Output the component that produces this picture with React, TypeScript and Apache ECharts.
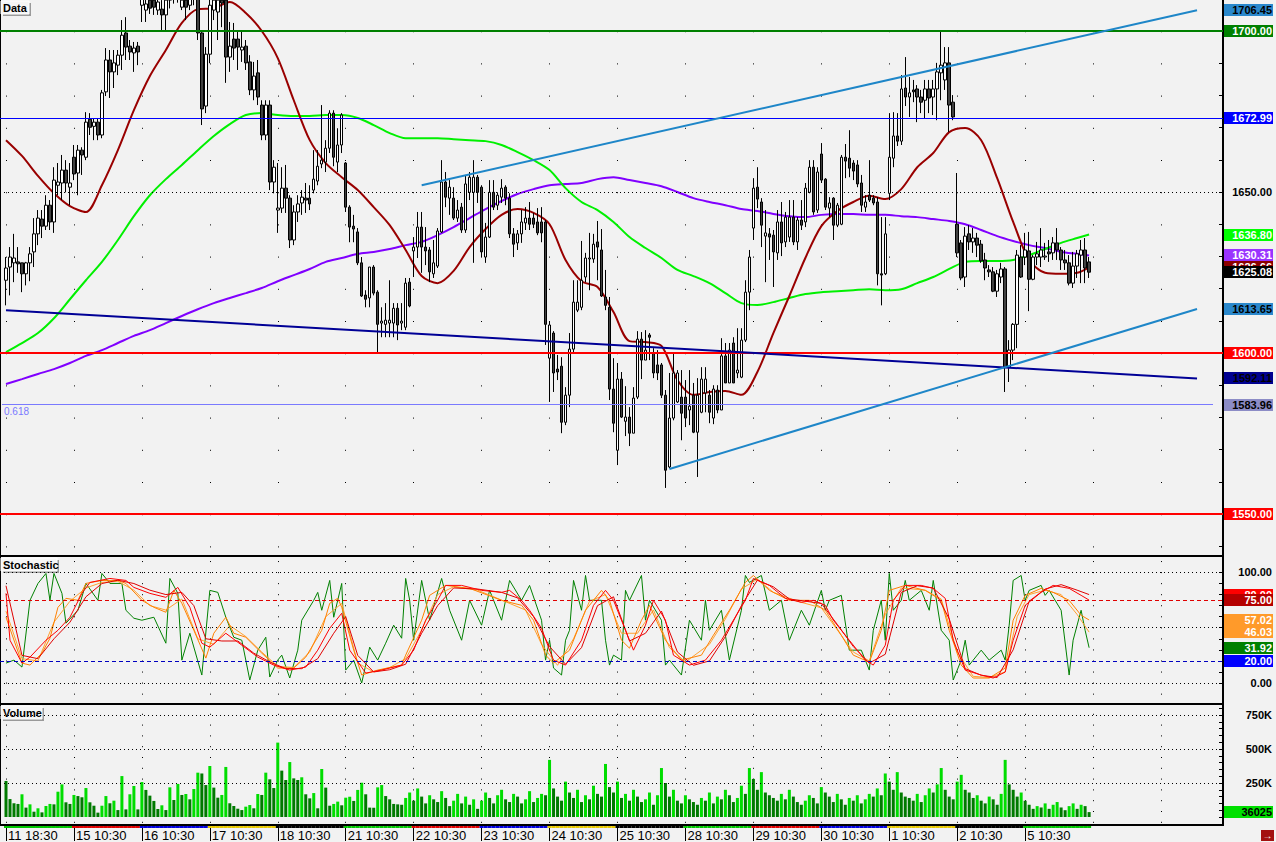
import React, { useEffect, useRef } from "react";
import * as echarts from "echarts";

// ---------- categories / day labels ----------
const dayLabels = ["11 18:30", "15 10:30", "16 10:30", "17 10:30", "18 10:30", "21 10:30", "22 10:30", "23 10:30", "24 10:30", "25 10:30", "28 10:30", "29 10:30", "30 10:30", "1 10:30", "2 10:30", "5 10:30"];
const dayStart = [0, 17, 34, 51, 68, 85, 102, 119, 136, 153, 170, 187, 204, 221, 238, 255];
const futureDayStart = [272, 289];
const dayColors = ["#00c800", "#e00000", "#0000e0", "#e8c800", "#000000", "#00c800", "#e00000", "#0000e0", "#e8c800", "#000000", "#00c800", "#e00000", "#0000e0", "#e8c800", "#000000", "#00c800"];
const SLOTS = 306;
const OFFSET = 1;

// ---------- price candles [open, close, low, high] ----------
const candles: number[][] = [
[1622.6,1626.4,1614.8,1629.8],[1626.7,1629.8,1617.9,1632.9],[1628.0,1629.5,1622.0,1637.0],[1628.3,1627.7,1624.9,1632.9],[1628.0,1624.6,1618.9,1628.0],
[1624.6,1628.0,1621.0,1628.3],[1628.0,1630.8,1622.3,1632.9],[1631.4,1637.0,1626.7,1641.9],[1637.0,1641.9,1633.5,1644.4],[1641.6,1639.4,1635.7,1644.4],
[1639.4,1645.9,1638.2,1649.0],[1645.9,1640.7,1638.2,1647.5],[1640.7,1653.7,1637.3,1657.7],[1652.1,1653.1,1649.0,1659.0],[1652.8,1656.8,1647.5,1661.5],
[1656.8,1652.8,1649.9,1659.9],[1651.5,1652.8,1645.9,1659.0],[1660.8,1655.6,1653.7,1664.6],[1655.9,1663.0,1649.0,1664.6],[1663.0,1661.5,1655.3,1663.9],
[1660.8,1671.7,1659.9,1674.8],[1672.6,1670.1,1667.7,1674.5],[1670.4,1671.7,1666.1,1672.9],[1671.7,1667.7,1666.1,1672.9],[1667.7,1680.8,1666.7,1681.7],
[1681.1,1691.0,1679.8,1694.7],[1691.0,1687.3,1679.2,1694.1],[1687.3,1690.1,1682.3,1694.1],[1689.4,1692.5,1686.3,1694.1],[1692.5,1698.7,1687.9,1703.4],
[1699.4,1695.0,1691.0,1704.3],[1695.3,1693.5,1691.0,1697.2],[1693.2,1694.7,1687.3,1696.6],[1695.3,1693.5,1689.4,1696.6],[1708.0,1711.2,1702.8,1714.3],
[1706.5,1708.4,1702.8,1711.2],[1709.6,1707.1,1705.3,1711.2],[1709.6,1707.4,1705.0,1711.2],[1706.5,1709.0,1705.0,1711.2],[1706.8,1705.0,1700.3,1709.6],
[1705.0,1709.6,1700.3,1711.2],[1709.6,1711.2,1707.0,1712.7],[1711.2,1710.5,1708.5,1712.7],[1710.5,1711.2,1708.8,1712.7],[1707.4,1709.6,1706.5,1711.2],
[1709.6,1707.4,1703.4,1711.2],[1708.0,1710.2,1706.5,1712.1],[1710.2,1711.2,1708.0,1712.7],[1710.2,1699.4,1697.2,1711.2],[1699.4,1675.8,1670.8,1700.3],
[1676.7,1692.8,1674.5,1695.0],[1692.8,1708.0,1690.0,1711.2],[1706.5,1709.6,1703.4,1711.2],[1705.9,1709.6,1697.2,1711.2],[1709.6,1708.7,1701.2,1711.2],
[1709.6,1691.9,1683.9,1711.2],[1691.9,1695.3,1687.3,1702.8],[1697.5,1694.7,1691.0,1702.5],[1697.5,1695.0,1687.9,1699.7],[1694.1,1695.0,1690.4,1699.7],
[1695.3,1690.1,1687.9,1697.2],[1690.4,1681.7,1680.1,1692.5],[1681.7,1686.0,1678.5,1690.4],[1687.0,1679.5,1677.0,1691.0],[1677.0,1667.7,1666.1,1678.5],
[1667.7,1677.0,1666.1,1678.5],[1677.0,1653.1,1650.6,1678.5],[1653.1,1657.7,1649.6,1659.9],[1644.4,1645.0,1637.3,1659.0],[1645.0,1651.2,1643.5,1657.7],
[1651.2,1648.1,1643.5,1658.4],[1648.1,1635.1,1632.6,1649.0],[1635.1,1643.8,1633.5,1645.9],[1643.8,1646.3,1640.7,1649.0],[1646.6,1648.4,1642.9,1650.6],
[1648.1,1647.5,1643.5,1652.8],[1648.1,1646.3,1644.4,1652.1],[1650.6,1654.0,1649.6,1663.0],[1653.4,1658.0,1652.1,1663.0],[1658.7,1659.9,1657.4,1677.0],
[1659.3,1663.6,1656.2,1666.1],[1663.6,1674.5,1662.1,1675.4],[1674.5,1660.8,1658.0,1675.4],[1659.3,1664.6,1656.2,1669.8],[1664.6,1673.9,1662.1,1674.5],
[1659.0,1645.3,1643.8,1659.3],[1645.3,1639.1,1634.4,1645.9],[1639.4,1638.5,1634.4,1642.9],[1637.6,1628.0,1627.3,1638.8],[1628.0,1617.7,1617.4,1629.8],
[1618.0,1616.7,1614.2,1619.5],[1617.1,1626.7,1614.2,1626.7],[1626.7,1618.6,1617.9,1627.3],[1618.9,1608.9,1600.0,1619.5],[1609.3,1609.9,1604.9,1614.2],
[1608.9,1610.2,1604.9,1615.5],[1609.3,1610.2,1604.9,1622.6],[1609.3,1613.9,1604.9,1615.5],[1613.9,1608.7,1604.0,1615.5],[1609.3,1609.9,1607.1,1615.5],
[1608.0,1621.7,1607.1,1623.3],[1622.0,1614.6,1614.2,1623.3],[1631.7,1632.9,1623.6,1636.0],[1632.9,1639.1,1629.5,1643.8],[1639.1,1632.9,1624.9,1643.8],
[1632.9,1631.7,1627.3,1639.1],[1632.0,1625.2,1622.0,1632.9],[1624.6,1628.0,1623.3,1635.1],[1627.0,1637.9,1626.4,1638.8],[1637.6,1653.1,1637.3,1659.9],
[1653.1,1648.4,1645.3,1656.2],[1648.1,1651.5,1642.9,1653.7],[1648.1,1641.9,1641.3,1651.5],[1641.9,1644.4,1640.7,1647.5],[1645.3,1638.2,1637.3,1646.6],
[1638.2,1652.5,1637.3,1655.3],[1649.9,1654.6,1647.5,1656.2],[1649.9,1654.6,1628.0,1659.9],[1654.6,1649.9,1646.6,1655.3],[1651.5,1631.4,1629.8,1652.1],
[1629.8,1636.0,1628.0,1640.4],[1636.0,1649.9,1635.7,1653.7],[1649.9,1645.3,1644.4,1653.7],[1645.9,1649.0,1644.4,1649.9],[1648.4,1651.2,1646.6,1654.0],
[1651.5,1648.1,1645.9,1652.1],[1648.1,1637.0,1635.7,1649.6],[1637.0,1633.8,1629.8,1638.8],[1634.2,1637.0,1632.0,1638.2],[1637.0,1640.7,1634.2,1644.4],
[1640.4,1641.9,1638.2,1645.3],[1641.9,1640.0,1638.2,1646.9],[1641.9,1640.0,1638.8,1643.5],[1640.7,1637.3,1636.6,1645.0],[1640.7,1637.3,1634.4,1645.3],
[1640.7,1608.9,1602.5,1641.3],[1598.4,1608.7,1584.8,1609.9],[1606.2,1593.8,1587.9,1606.8],[1595.0,1594.1,1591.6,1599.4],[1595.9,1578.5,1575.1,1598.7],
[1578.5,1586.9,1577.6,1589.4],[1586.9,1601.2,1583.2,1606.2],[1601.2,1615.8,1600.3,1622.6],[1613.3,1615.8,1612.7,1622.6],[1614.2,1622.6,1613.3,1634.8],
[1623.6,1629.5,1622.0,1631.1],[1629.2,1629.5,1619.5,1637.3],[1629.2,1633.8,1628.0,1637.0],[1634.5,1632.9,1622.6,1641.0],[1632.0,1617.7,1617.4,1638.5],
[1617.4,1614.8,1613.3,1625.8],[1614.2,1588.8,1585.4,1617.4],[1588.8,1578.2,1575.4,1598.4],[1569.8,1591.9,1565.2,1596.9],[1591.9,1580.1,1579.8,1594.1],
[1578.8,1580.1,1574.2,1589.7],[1580.1,1575.1,1571.1,1583.2],[1575.1,1586.0,1575.1,1589.4],[1586.3,1604.3,1585.7,1606.8],[1604.3,1597.8,1591.9,1606.5],
[1597.8,1600.9,1597.8,1607.1],[1605.6,1604.9,1597.8,1606.2],[1600.0,1593.8,1592.2,1601.5],[1596.3,1593.8,1591.6,1600.9],[1596.3,1586.9,1586.0,1596.9],
[1586.9,1563.6,1558.1,1588.5],[1564.6,1579.8,1564.2,1593.8],[1579.8,1593.8,1579.1,1599.7],[1584.8,1593.8,1584.5,1594.7],[1586.3,1581.3,1572.9,1594.7],
[1586.3,1579.8,1577.0,1591.6],[1582.3,1583.5,1577.6,1594.7],[1586.9,1575.4,1575.1,1590.7],[1575.4,1586.9,1561.5,1592.2],[1581.6,1591.9,1581.3,1595.6],
[1587.6,1591.9,1581.6,1595.6],[1586.9,1581.6,1578.2,1588.5],[1579.8,1588.8,1577.9,1590.0],[1588.5,1582.3,1581.3,1590.0],[1582.3,1599.1,1582.3,1604.6],
[1599.1,1590.7,1590.7,1603.1],[1590.7,1600.9,1590.7,1603.1],[1603.1,1590.7,1590.7,1604.9],[1593.8,1594.7,1592.2,1607.7],[1592.5,1604.0,1592.2,1607.7],
[1604.0,1618.9,1603.4,1622.6],[1618.9,1629.8,1613.3,1632.0],[1638.8,1651.2,1635.1,1654.3],[1651.5,1647.8,1645.0,1657.7],[1646.9,1639.7,1632.9,1648.1],
[1636.3,1637.3,1622.0,1644.4],[1637.0,1636.0,1628.9,1638.8],[1636.6,1631.4,1620.5,1638.2],[1631.1,1640.7,1628.9,1644.4],[1640.7,1634.2,1630.1,1646.9],
[1634.5,1642.2,1632.9,1643.8],[1636.0,1642.2,1634.5,1647.5],[1642.2,1634.5,1633.5,1647.5],[1634.5,1641.3,1632.0,1642.2],[1641.3,1639.7,1638.2,1647.5],
[1640.7,1651.2,1639.1,1652.8],[1649.9,1657.7,1649.6,1659.9],[1657.7,1643.8,1642.9,1659.9],[1644.4,1656.2,1643.5,1657.7],[1661.8,1653.7,1652.8,1665.2],
[1654.0,1645.3,1644.4,1654.3],[1645.0,1646.6,1642.2,1648.4],[1648.1,1639.7,1635.1,1648.4],[1639.7,1645.9,1639.1,1646.6],[1640.0,1660.8,1639.7,1661.5],
[1660.8,1659.6,1654.3,1664.9],[1660.5,1657.4,1654.6,1669.2],[1659.0,1656.5,1653.7,1659.9],[1658.4,1652.5,1651.5,1659.9],[1652.8,1645.9,1643.8,1655.3],
[1645.3,1646.9,1643.8,1649.0],[1649.0,1647.5,1646.9,1659.9],[1648.1,1646.6,1645.9,1649.0],[1646.9,1624.6,1621.0,1648.4],[1624.6,1624.2,1614.8,1642.2],
[1624.6,1637.0,1624.2,1642.2],[1649.6,1660.8,1647.5,1674.5],[1660.5,1667.4,1657.7,1674.8],[1667.4,1665.8,1664.3,1674.5],[1665.8,1682.0,1664.6,1686.3],
[1682.3,1679.5,1676.7,1691.9],[1679.5,1680.8,1673.3,1685.7],[1681.7,1681.1,1677.9,1684.8],[1682.0,1679.5,1671.7,1683.2],[1679.5,1677.9,1674.5,1681.7],
[1678.5,1682.0,1672.9,1684.8],[1682.0,1679.2,1674.5,1684.8],[1679.5,1682.0,1673.9,1684.8],[1682.0,1687.3,1672.3,1690.1],[1687.0,1689.4,1678.5,1700.0],
[1684.8,1690.1,1681.7,1695.0],[1690.1,1677.0,1668.6,1695.0],[1677.9,1673.3,1672.3,1680.1],[1640.0,1631.1,1629.8,1655.9],[1634.2,1623.3,1622.6,1635.1],
[1623.6,1636.3,1620.5,1639.1],[1637.0,1634.5,1632.0,1639.7],[1634.5,1635.7,1631.1,1638.8],[1635.7,1633.5,1629.8,1637.3],[1633.8,1628.6,1628.0,1635.1],
[1628.9,1626.4,1622.6,1631.1],[1625.8,1625.2,1623.6,1627.3],[1625.2,1619.2,1618.9,1626.7],[1619.2,1624.6,1617.4,1625.8],[1623.6,1626.1,1621.7,1628.0],
[1626.1,1595.6,1587.9,1626.7],[1595.6,1600.9,1591.0,1604.0],[1600.9,1608.9,1597.8,1609.3],[1608.9,1630.4,1601.5,1632.0],[1629.8,1623.6,1623.3,1633.5],
[1629.8,1632.0,1627.3,1637.3],[1631.7,1622.9,1613.0,1637.6],[1622.9,1629.8,1622.6,1630.4],[1629.8,1630.8,1627.3,1634.5],[1629.8,1632.0,1626.7,1638.8],
[1629.8,1630.1,1628.9,1634.2],[1631.4,1630.8,1628.3,1635.1],[1631.1,1634.2,1628.9,1636.0],[1634.2,1632.0,1628.9,1638.8],[1632.0,1628.9,1625.8,1632.9],
[1628.9,1628.0,1625.8,1632.0],[1628.0,1621.7,1621.0,1630.4],[1621.7,1627.0,1620.2,1631.4],[1627.0,1630.8,1623.3,1632.0],[1630.4,1632.0,1621.7,1635.1],
[1632.0,1626.4,1621.7,1635.7],[1628.3,1625.1,1623.3,1629.8]
];

// ---------- volume (thousands) ----------
const volumeK: number[] = [
265,132,101,96,167,69,93,39,64,34,81,96,93,186,240,108,96,162,154,145,
213,108,83,32,83,154,101,120,51,301,56,167,228,56,257,199,157,118,59,86,
51,218,125,243,162,169,130,206,326,320,235,375,216,142,162,368,101,81,61,51,
76,88,64,169,162,326,277,213,547,341,272,404,284,272,292,167,137,176,64,353,
216,83,96,113,86,142,149,118,199,252,167,69,68,218,235,154,130,96,93,
90,140,180,120,210,150,100,160,130,110,190,140,80,120,170,100,150,90,130,60,
120,180,140,100,160,200,130,110,170,150,100,130,190,110,140,170,160,
420,210,150,120,260,180,140,200,110,160,130,230,170,150,390,220,180,
260,140,170,120,200,150,110,130,180,90,160,360,250,150,200,120,100,
160,130,110,90,140,120,180,100,150,130,200,160,110,140,230,170,360,
280,200,330,180,160,140,120,170,130,200,150,110,90,120,160,140,100,
220,180,150,110,170,130,90,140,120,160,100,130,170,150,210,160,320,
260,200,330,180,150,140,120,170,110,160,210,180,240,360,200,150,130,
260,310,200,180,140,160,120,100,150,130,90,170,420,240,200,150,180,
120,90,60,80,70,100,60,90,110,70,50,80,100,60,90,80,36.025
];

// ---------- moving averages, read every 4th bar (last = final bar) ----------
const MA_STEP = 4;
const maShort = [1666.1,1661.2,1655.0,1649.6,1645.6,1643.8,1652.1,1663.0,1675.4,1686.0,
1694.1,1702.5,1706.8,1707.1,1709.0,1705.6,1700.0,1691.6,1678.5,1666.1,
1659.0,1654.6,1650.6,1645.3,1639.7,1632.0,1623.9,1621.7,1625.5,1632.9,
1638.5,1642.9,1644.7,1643.5,1640.0,1628.9,1622.3,1620.5,1612.7,1603.7,
1603.4,1602.2,1591.6,1587.0,1587.9,1588.2,1587.0,1594.1,1606.2,1617.7,
1629.5,1639.4,1644.1,1646.9,1648.8,1647.8,1650.9,1657.7,1662.1,1668.6,
1669.9,1666.1,1654.3,1640.7,1628.9,1624.9,1624.6,1624.9,1626.6];
const maMid = [1600.3,1603.1,1606.2,1610.8,1616.7,1622.6,1628.3,1635.1,1642.5,1649.0,
1654.0,1658.4,1663.0,1667.4,1671.1,1673.9,1674.5,1673.9,1673.6,1673.6,
1673.9,1673.9,1673.0,1670.8,1668.3,1666.7,1666.7,1666.7,1666.4,1666.1,
1665.8,1664.6,1662.4,1659.9,1656.8,1651.2,1646.9,1644.4,1640.7,1636.0,
1632.6,1629.5,1625.8,1623.9,1621.7,1618.6,1615.5,1614.9,1615.8,1617.1,
1618.3,1618.9,1619.2,1619.5,1619.8,1619.5,1619.8,1621.7,1623.6,1626.1,
1628.3,1628.6,1628.6,1628.9,1630.4,1632.3,1634.2,1635.7,1636.8];
const maLong = [1590.4,1591.9,1593.5,1595.0,1596.9,1599.1,1600.9,1603.1,1605.3,1607.1,
1609.3,1611.5,1613.6,1615.5,1617.1,1618.6,1620.2,1622.3,1624.2,1626.1,
1628.3,1629.5,1630.8,1631.4,1632.3,1633.5,1634.5,1636.6,1639.1,1641.9,
1644.7,1647.2,1649.4,1650.9,1652.1,1652.5,1652.8,1654.0,1654.6,1653.7,
1652.8,1651.8,1650.0,1648.1,1646.9,1645.9,1644.7,1644.1,1643.2,1642.5,
1642.2,1642.9,1643.2,1643.2,1642.9,1642.9,1642.5,1642.2,1641.6,1641.0,
1640.0,1638.2,1636.3,1634.8,1633.5,1632.6,1631.4,1630.8,1630.3];

// ---------- stochastic lines [bar index, value] ----------
const stochGreen: number[][] = [[0,18],[2,20.7],[4,14.4],[6,74.8],[8,90.1],[10,99.1],[11,74.8],[12,99.1],[14,81.1],[15,54.1],[18,65.8],[20,90.1],[23,74.8],[24,99.1],[26,90.1],[29,90.1],[30,65.8],[32,58.6],[34,56.8],[37,59.5],[40,36],[41,94.6],[43,81.1],[44,20.7],[46,45],[49,7.2],[51,83.8],[53,82],[55,59.5],[57,41.4],[59,38.7],[61,2.7],[63,29.7],[65,41.4],[66,5.4],[68,20.7],[69,25.2],[71,4.5],[73,29.7],[74,56.8],[77,74.8],[78,82],[79,65.8],[81,92.8],[82,59.5],[84,90.1],[85,11.7],[87,20.7],[89,0],[91,32.4],[93,20.7],[95,36],[97,52.3],[99,40.5],[100,94.6],[101,74.8],[102,38.7],[104,92.8],[106,56.8],[109,94.6],[111,65.8],[114,38.7],[116,74.8],[119,52.3],[121,83.8],[124,56.8],[126,92.8],[129,74.8],[131,88.3],[134,56.8],[135,20.7],[136,38.7],[137,13.5],[139,7.2],[140,38.7],[141,47.7],[142,92.8],[144,65.8],[145,97.3],[146,74.8],[149,74.8],[150,38.7],[151,16.2],[152,25.2],[154,20.7],[155,83.8],[156,74.8],[159,97.3],[160,56.8],[161,74.8],[164,56.8],[165,16.2],[166,20.7],[169,7.2],[171,56.8],[174,38.7],[175,74.8],[176,47.7],[179,65.8],[181,20.7],[184,65.8],[185,97.3],[186,91],[189,97.3],[191,65.8],[194,74.8],[196,38.7],[199,65.8],[201,52.3],[204,83.8],[205,65.8],[206,74.8],[209,79.3],[211,29.7],[214,29.7],[216,11.7],[217,47.7],[219,74.8],[220,38.7],[221,99.1],[222,65.8],[224,74.8],[225,92.8],[226,74.8],[229,83.8],[231,65.8],[232,92.8],[234,47.7],[236,38.7],[237,2.7],[239,20.7],[240,38.7],[241,16.2],[244,29.7],[246,20.7],[249,29.7],[250,20.7],[251,52.3],[252,92.8],[254,97.3],[255,74.8],[256,83.8],[259,88.3],[260,79.3],[261,83.8],[264,65.8],[266,7.2],[267,38.7],[269,65.8],[270,47.7],[271,31.92]];
const stochRed: number[][] = [[0,81.1],[1,38.7],[4,18],[6,23.4],[10,38.7],[13,47.7],[16,59.5],[19,81.1],[21,91],[26,94.6],[30,92.8],[32,86.5],[36,81.1],[40,77.5],[43,86.5],[46,68.5],[49,36],[51,32.4],[55,45],[59,34.2],[63,23.4],[67,16.2],[71,11.7],[75,14.4],[78,29.7],[81,49.5],[84,63.1],[86,29.7],[90,9],[94,11.7],[99,16.2],[102,29.7],[105,56.8],[108,74.8],[110,88.3],[114,88.3],[119,83.8],[124,82],[126,83.8],[129,74.8],[131,65.8],[134,49.5],[136,29.7],[137,20.7],[140,16.2],[144,38.7],[147,70.3],[150,83.8],[152,74.8],[155,47.7],[157,29.7],[160,52.3],[162,74.8],[165,56.8],[167,25.2],[171,16.2],[175,20.7],[179,38.7],[182,56.8],[185,74.8],[187,94.6],[191,88.3],[195,76.6],[199,73],[202,74.8],[205,70.3],[207,56.8],[211,38.7],[215,20.7],[217,16.2],[220,34.2],[222,74.8],[225,88.3],[229,88.3],[232,85.6],[235,76.6],[237,38.7],[240,11.7],[244,7.2],[247,4.5],[250,9.9],[252,38.7],[255,70.3],[259,82],[262,88.3],[266,85.6],[269,79.3],[271,75]];
const stochRed2: number[][] = [[0,88],[4,25],[8,22],[12,40],[16,55],[20,78],[24,90],[28,93],[32,90],[36,84],[40,80],[44,82],[47,70],[50,40],[54,38],[58,38],[62,27],[66,19],[70,13],[74,13],[78,22],[82,45],[85,60],[88,25],[92,10],[96,12],[100,17],[104,45],[108,70],[112,86],[118,85],[124,82],[128,77],[132,60],[136,33],[140,17],[144,32],[148,70],[152,78],[156,38],[160,45],[164,65],[168,28],[172,16],[176,20],[180,42],[184,70],[188,93],[192,87],[196,76],[200,74],[204,72],[208,53],[212,33],[216,18],[220,26],[224,82],[228,88],[232,86],[236,58],[240,13],[244,7],[248,5],[252,30],[256,74],[260,85],[264,89],[268,84],[271,80]];
const stochOrange: number[][] = [[0,59.5],[4,18],[6,16.2],[9,27],[11,40.5],[13,68.5],[15,76.6],[18,74.8],[20,90.1],[24,92.8],[28,92.8],[30,90.1],[34,74.8],[37,68.5],[40,64],[42,83.8],[44,72.1],[47,47.7],[50,22.5],[52,45],[55,59.5],[57,45],[60,41.4],[64,27],[68,13.5],[72,13.5],[75,23.4],[79,47.7],[81,72.1],[83,76.6],[84,68.5],[87,29.7],[89,7.2],[93,11.7],[99,16.2],[100,25.2],[104,56.8],[106,79.3],[110,88.3],[116,85.6],[124,74.8],[129,70.3],[132,56.8],[135,25.2],[137,18],[141,29.7],[145,65.8],[149,83.8],[151,74.8],[154,38.7],[156,31.5],[159,56.8],[161,70.3],[165,38.7],[169,20.7],[174,25.2],[177,43.2],[181,65.8],[185,91],[187,97.3],[191,83.8],[196,74.8],[201,74.8],[205,65.8],[209,43.2],[212,25.2],[216,18.9],[219,47.7],[221,83.8],[225,88.3],[230,83.8],[234,74.8],[236,47.7],[239,16.2],[242,4.5],[246,4.5],[250,13.5],[252,56.8],[255,79.3],[259,85.6],[262,82],[266,74.8],[269,61.3],[271,57.02]];
const stochOrange2: number[][] = [[0,65],[4,22],[8,20],[12,55],[16,74],[20,86],[24,91],[28,92],[32,84],[36,70],[40,66],[44,76],[48,40],[52,35],[56,52],[60,42],[64,28],[68,15],[72,14],[76,28],[80,60],[84,72],[88,18],[92,10],[96,14],[100,22],[104,48],[108,80],[112,87],[118,84],[124,75],[130,66],[134,35],[138,16],[142,40],[146,74],[150,80],[154,45],[158,45],[162,66],[166,32],[170,19],[176,35],[180,58],[184,85],[188,94],[192,82],[198,74],[204,68],[208,48],[212,28],[216,20],[220,62],[224,86],[230,84],[234,76],[238,28],[242,6],[246,5],[250,10],[253,60],[256,80],[260,84],[264,80],[268,62],[271,46.03]];

// ---------- reference levels & trend lines ----------
const priceLevels = [
  { value: 1700, color: "#008000", width: 2 },
  { value: 1672.99, color: "#0000ff", width: 1 },
  { value: 1600, color: "#ff0000", width: 2 },
  { value: 1550, color: "#ff0000", width: 2 },
];
const fib618 = { from: 0, to: 302, value: 1583.96 };
const trends = [
  { from: [0, 1613.3], to: [298, 1592.11], color: "#000096", width: 2 },
  { from: [104, 1652.1], to: [298, 1706.45], color: "#1e86c8", width: 2 },
  { from: [166, 1564.0], to: [298, 1613.65], color: "#1e86c8", width: 2 },
];
const priceBadges = [
  { v: 1706.45, bg: "#2a88cc", fg: "#000" },
  { v: 1700.0, bg: "#008000", fg: "#fff" },
  { v: 1672.99, bg: "#0000ff", fg: "#fff" },
  { v: 1636.8, bg: "#00ff00", fg: "#fff" },
  { v: 1630.31, bg: "#9a33ff", fg: "#fff" },
  { v: 1626.66, bg: "#8b0000", fg: "#fff" },
  { v: 1625.08, bg: "#000000", fg: "#fff" },
  { v: 1613.65, bg: "#2a88cc", fg: "#000" },
  { v: 1600.0, bg: "#ff0000", fg: "#fff" },
  { v: 1592.11, bg: "#000090", fg: "#000" },
  { v: 1583.96, bg: "#8c8cc6", fg: "#000" },
  { v: 1550.0, bg: "#ff0000", fg: "#fff" },
];
const stochBadges = [
  { v: 80, bg: "#ff0000", fg: "#fff" },
  { v: 75, bg: "#b40000", fg: "#fff" },
  { v: 57.02, bg: "#ff9a2a", fg: "#fff" },
  { v: 46.03, bg: "#ff9a2a", fg: "#fff" },
  { v: 31.92, bg: "#008000", fg: "#fff" },
  { v: 20, bg: "#0000ff", fg: "#fff" },
];

const FONT = '"Liberation Sans", Arial, sans-serif';
const BOLD = `bold 11px ${FONT}`;

function dayOf(i: number) {
  let k = 0;
  for (let d = 0; d < dayStart.length; d++) if (dayStart[d] <= i) k = d;
  return k;
}

export default function App() {
  const ref = useRef<HTMLDivElement>(null);
  useEffect(() => {
    if (!ref.current) return;
    const chart = echarts.init(ref.current, undefined, { renderer: "svg" });
    const cats = Array.from({ length: SLOTS }, (_, j) => String(j));
    const labelAt = new Map<number, string>(dayStart.map((s, k) => [s + OFFSET, dayLabels[k]]));
    const gridAt = new Set<number>([...dayStart, ...futureDayStart].map((s) => s + OFFSET));
    const last = candles.length - 1;
    const maData = (arr: number[]) => arr.map((v, k) => [Math.min(k * MA_STEP, last) + OFFSET, v]);
    const stData = (arr: number[][]) => arr.map(([i, v]) => [i + OFFSET, v]);

    const grids = [
      { left: -1, right: 53, top: 0, height: 555 },
      { left: -1, right: 53, top: 557, height: 146 },
      { left: -1, right: 53, top: 705, height: 119 },
      { left: -1, right: 53, top: 826, height: 3 },
    ];
    const dots = [
      { type: [1, 31.2], off: 1.2 },
      { type: [1, 10.05], off: 6.6 },
      { type: [1, 9.8], off: 2 },
    ];
    const xAxes = grids.map((_, g) => ({
      type: "category",
      gridIndex: g,
      data: cats,
      boundaryGap: true,
      axisLine: { show: false },
      axisTick:
        g === 3
          ? { show: true, alignWithLabel: true, interval: (i: number) => labelAt.has(i), length: 13, lineStyle: { color: "#000", width: 1 } }
          : { show: false },
      axisLabel:
        g === 3
          ? {
              show: true,
              interval: (i: number) => labelAt.has(i),
              formatter: (_v: string, i: number) => labelAt.get(i) ?? "",
              align: "left",
              margin: 1,
              padding: [0, 0, 0, 2],
              fontSize: 13,
              fontFamily: FONT,
              color: "#000",
            }
          : { show: false },
      splitLine:
        g < 3
          ? {
              show: true,
              alignWithLabel: true,
              interval: (i: number) => gridAt.has(i),
              lineStyle: { color: "#000", width: 1, type: dots[g].type, dashOffset: dots[g].off },
            }
          : { show: false },
    }));
    const yBase = (g: number, min: number, max: number, ticks: number[]) => ({
      type: "value",
      gridIndex: g,
      position: "right",
      min,
      max,
      axisLine: { show: true, lineStyle: { color: "#000", width: 2 } },
      axisTick: { show: true, inside: true, length: 4, customValues: ticks, lineStyle: { color: "#000" } },
      axisLabel: { show: false },
      splitLine: { show: false },
    });
    const range = (a: number, b: number, s: number) => {
      const r: number[] = [];
      for (let v = a; v <= b + 1e-9; v += s) r.push(v);
      return r;
    };
    const yAxes = [
      yBase(0, 1537.27, 1709.63, range(1540, 1700, 10)),
      yBase(1, -18.1, 114.0, range(0, 100, 10)),
      yBase(2, -51.5, 823.5, range(0, 800, 50)),
      { type: "value", gridIndex: 3, min: 0, max: 1, show: false },
    ];

    const dotted = (v: number) => ({ yAxis: v, lineStyle: { color: "#000", width: 1, type: [1, 3] } });
    const stLine = (arr: number[][], color: string) => ({
      type: "line",
      xAxisIndex: 1,
      yAxisIndex: 1,
      data: stData(arr),
      showSymbol: false,
      lineStyle: { color, width: 1 },
    });

    const option: any = {
      animation: false,
      backgroundColor: "#f2f2f2",
      grid: grids,
      xAxis: xAxes,
      yAxis: yAxes,
      series: [
        { type: "line", xAxisIndex: 0, yAxisIndex: 0, data: maData(maLong), showSymbol: false, smooth: 0.3, z: 2, lineStyle: { color: "#8000ff", width: 2 } },
        { type: "line", xAxisIndex: 0, yAxisIndex: 0, data: maData(maMid), showSymbol: false, smooth: 0.3, z: 2, lineStyle: { color: "#00f000", width: 2 } },
        { type: "line", xAxisIndex: 0, yAxisIndex: 0, data: maData(maShort), showSymbol: false, smooth: 0.3, z: 2, lineStyle: { color: "#990000", width: 2 } },
        {
          type: "candlestick",
          xAxisIndex: 0,
          yAxisIndex: 0,
          z: 3,
          clip: true,
          barWidth: 3,
          encode: { x: 0, y: [1, 2, 3, 4] },
          data: candles.map((c, i) => [i + OFFSET, ...c]),
          itemStyle: { color: "#ffffff", color0: "#404040", borderColor: "#000", borderColor0: "#000", borderWidth: 1 },
        },
        {
          type: "line",
          xAxisIndex: 0,
          yAxisIndex: 0,
          data: [],
          z: 5,
          markLine: {
            silent: true,
            symbol: ["none", "none"],
            label: { show: false },
            data: [
              dotted(1650),
              ...priceLevels.map((l) => ({ yAxis: l.value, lineStyle: { color: l.color, width: l.width, type: "solid" } })),
              [
                {
                  coord: [fib618.from, fib618.value],
                  lineStyle: { color: "#7a7aff", width: 1, type: "solid" },
                  label: { show: true, formatter: "0.618", position: "insideStartBottom", color: "#7a7aff", fontSize: 10, fontFamily: FONT, distance: 2 },
                },
                { coord: [fib618.to + OFFSET, fib618.value] },
              ],
              ...trends.map((t) => [
                { coord: [t.from[0] + OFFSET, t.from[1]], lineStyle: { color: t.color, width: t.width, type: "solid" } },
                { coord: [t.to[0] + OFFSET, t.to[1]] },
              ]),
            ],
          },
        },
        stLine(stochGreen, "#008000"),
        stLine(stochOrange2, "#ffa030"),
        stLine(stochOrange, "#ff8000"),
        stLine(stochRed2, "#e00000"),
        {
          ...stLine(stochRed, "#ff0000"),
          markLine: {
            silent: true,
            symbol: ["none", "none"],
            label: { show: false },
            data: [
              dotted(100),
              dotted(50),
              dotted(0),
              { yAxis: 75, lineStyle: { color: "#e00000", width: 1, type: [4, 3] } },
              { yAxis: 20, lineStyle: { color: "#0000c0", width: 1, type: [4, 3] } },
            ],
          },
        },
        {
          type: "bar",
          xAxisIndex: 2,
          yAxisIndex: 2,
          barWidth: 3,
          data: volumeK.map((v, i) => ({ value: [i + OFFSET, v], itemStyle: { color: i > 0 && v > volumeK[i - 1] ? "#00dd00" : "#007a00" } })),
          markLine: {
            silent: true,
            symbol: ["none", "none"],
            label: { show: false },
            data: [dotted(750), dotted(500), dotted(250)],
          },
        },
        {
          type: "bar",
          xAxisIndex: 3,
          yAxisIndex: 3,
          barWidth: 4,
          barCategoryGap: "0%",
          data: candles.map((_, i) => ({ value: [i + OFFSET, 1], itemStyle: { color: dayColors[dayOf(i)] } })),
        },
      ],
    };
    chart.setOption(option);

    const py = (axis: number, v: number) => chart.convertToPixel({ yAxisIndex: axis } as any, v) as unknown as number;
    const badge = (y: number, text: string, bg: string, fg: string) => ({
      type: "group",
      children: [
        { type: "rect", shape: { x: 1224, y: Math.round(y) - 6, width: 49, height: 12 }, style: { fill: bg } },
        {
          type: "text",
          x: 1272,
          y: Math.round(y),
          style: { text, fill: fg, font: BOLD, textAlign: "right", textVerticalAlign: "middle", align: "right", verticalAlign: "middle" },
        },
      ],
    });
    const plain = (y: number, text: string) => ({
      type: "text",
      x: 1272,
      y: Math.round(y),
      style: { text, fill: "#000", font: BOLD, textAlign: "right", textVerticalAlign: "middle", align: "right", verticalAlign: "middle" },
    });
    const paneTitle = (x: number, y: number, w: number, text: string) => ({
      type: "group",
      children: [
        { type: "rect", shape: { x: x + 2, y: y + 2, width: w, height: 13 }, style: { fill: "#9a9a9a" } },
        { type: "rect", shape: { x, y, width: w, height: 13 }, style: { fill: "#f6f6f6", stroke: "#ffffff", lineWidth: 1 } },
        { type: "text", x: x + 2, y: y + 7, style: { text, fill: "#000", font: BOLD, textVerticalAlign: "middle", verticalAlign: "middle" } },
      ],
    });
    const hline = (y: number) => ({ type: "line", shape: { x1: 0, y1: y, x2: 1224, y2: y }, style: { stroke: "#000", lineWidth: 2 } });

    const graphics: any[] = [
      hline(556),
      hline(704),
      hline(825),
      { type: "line", shape: { x1: 0.5, y1: 0, x2: 0.5, y2: 826 }, style: { stroke: "#000", lineWidth: 1 } },
      plain(py(0, 1650), "1650.00"),
      plain(py(1, 100), "100.00"),
      plain(py(1, 0), "0.00"),
      plain(py(2, 750), "750K"),
      plain(py(2, 500), "500K"),
      plain(py(2, 250), "250K"),
      ...priceBadges.map((b) => badge(py(0, b.v), b.v.toFixed(2), b.bg, b.fg)),
      ...stochBadges.map((b) => badge(py(1, b.v), b.v.toFixed(2), b.bg, b.fg)),
      badge(py(2, volumeK[last]), String(Math.round(volumeK[last] * 1000)), "#00e000", "#000"),
      paneTitle(1, 1, 28, "Data"),
      paneTitle(1, 558, 56, "Stochastic"),
      paneTitle(1, 706, 41, "Volume"),
      {
        type: "group",
        children: [
          { type: "rect", shape: { x: 1261, y: 830, width: 13, height: 11 }, style: { fill: "#a31010" } },
          { type: "text", x: 1267.5, y: 835.5, style: { text: "→", fill: "#fff", font: `bold 10px ${FONT}`, textAlign: "center", textVerticalAlign: "middle", align: "center", verticalAlign: "middle" } },
        ],
      },
    ];
    chart.setOption({ graphic: graphics });

    return () => chart.dispose();
  }, []);
  return <div ref={ref} style={{ position: "fixed", left: 0, top: 0, width: 1276, height: 842 }} />;
}
